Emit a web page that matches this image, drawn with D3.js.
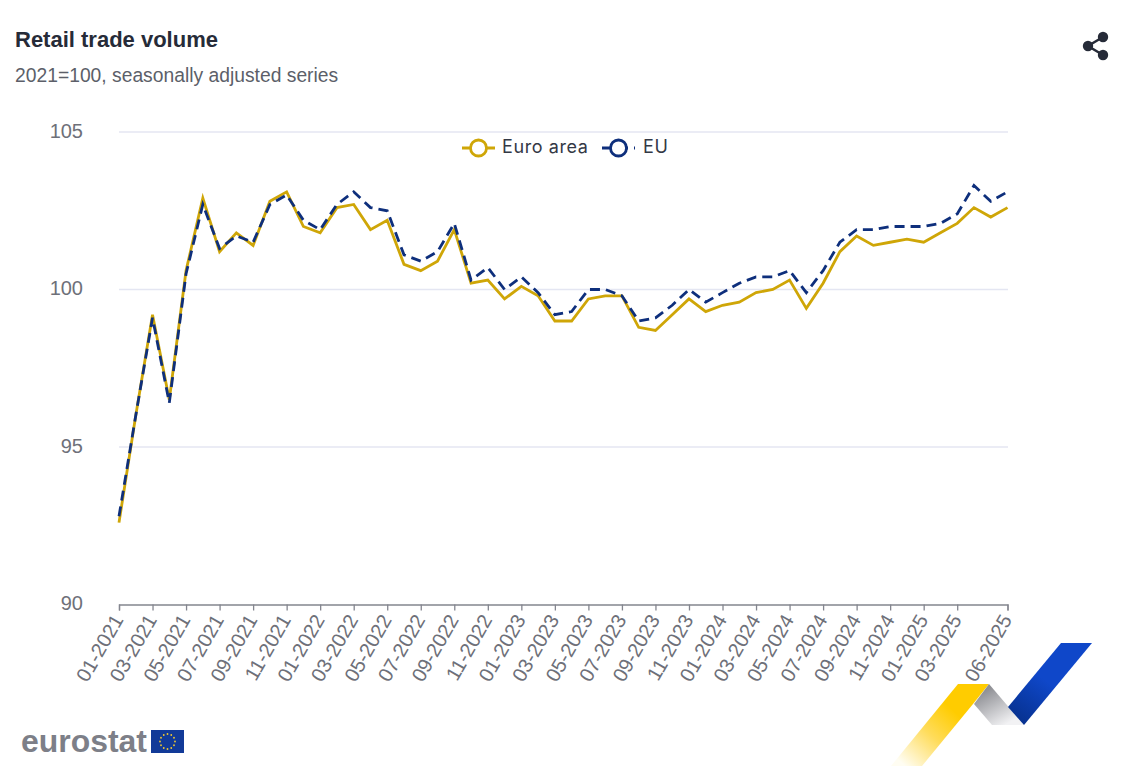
<!DOCTYPE html>
<html>
<head>
<meta charset="utf-8">
<script src="https://cdn.jsdelivr.net/npm/d3@7"></script>
<style>
  html, body { margin: 0; padding: 0; background: #fff; }
  svg { display: block; }
  text { font-family: "Liberation Sans", Arial, sans-serif; }
</style>
</head>
<body>
<div id="chart"></div>
<script>
var WIDTH = 1130;
var HEIGHT = 784;

var months = [
  '01-2021','02-2021','03-2021','04-2021','05-2021','06-2021','07-2021','08-2021','09-2021','10-2021','11-2021','12-2021',
  '01-2022','02-2022','03-2022','04-2022','05-2022','06-2022','07-2022','08-2022','09-2022','10-2022','11-2022','12-2022',
  '01-2023','02-2023','03-2023','04-2023','05-2023','06-2023','07-2023','08-2023','09-2023','10-2023','11-2023','12-2023',
  '01-2024','02-2024','03-2024','04-2024','05-2024','06-2024','07-2024','08-2024','09-2024','10-2024','11-2024','12-2024',
  '01-2025','02-2025','03-2025','04-2025','05-2025','06-2025'
];

var euroArea = [
  92.6, 96.0, 99.2, 96.5, 100.6, 102.9, 101.2, 101.8, 101.4, 102.8, 103.1, 102.0,
  101.8, 102.6, 102.7, 101.9, 102.2, 100.8, 100.6, 100.9, 101.9, 100.2, 100.3, 99.7,
  100.1, 99.8, 99.0, 99.0, 99.7, 99.8, 99.8, 98.8, 98.7, 99.2, 99.7, 99.3,
  99.5, 99.6, 99.9, 100.0, 100.3, 99.4, 100.2, 101.2, 101.7, 101.4, 101.5, 101.6,
  101.5, 101.8, 102.1, 102.6, 102.3, 102.6
];

var eu = [
  92.8, 96.0, 99.1, 96.4, 100.5, 102.7, 101.3, 101.7, 101.5, 102.7, 103.0, 102.2,
  101.9, 102.7, 103.1, 102.6, 102.5, 101.1, 100.9, 101.2, 102.1, 100.3, 100.7, 100.0,
  100.4, 99.9, 99.2, 99.3, 100.0, 100.0, 99.8, 99.0, 99.1, 99.5, 100.0, 99.6,
  99.9, 100.2, 100.4, 100.4, 100.6, 99.9, 100.6, 101.5, 101.9, 101.9, 102.0, 102.0,
  102.0, 102.1, 102.4, 103.3, 102.8, 103.1
];

var xTicks = [
  '01-2021','03-2021','05-2021','07-2021','09-2021','11-2021',
  '01-2022','03-2022','05-2022','07-2022','09-2022','11-2022',
  '01-2023','03-2023','05-2023','07-2023','09-2023','11-2023',
  '01-2024','03-2024','05-2024','07-2024','09-2024','11-2024',
  '01-2025','03-2025','06-2025'
];
var yTicks = [90, 95, 100, 105];

var GOLD = '#cfa607';
var NAVY = '#0e2f7c';
var LABEL = '#6e7079';

var svg = d3.select('#chart').append('svg')
  .attr('width', WIDTH)
  .attr('height', HEIGHT);

var defs = svg.append('defs');

var x = d3.scalePoint().domain(months).range([119, 1007.5]);
var y = d3.scaleLinear().domain([90, 105]).range([604.5, 132]);

// Titles
svg.append('text')
  .attr('x', 15).attr('y', 47)
  .attr('font-size', 22).attr('font-weight', 'bold')
  .attr('fill', '#262b38')
  .text('Retail trade volume');

svg.append('text')
  .attr('x', 15).attr('y', 81.5)
  .attr('font-size', 19.3)
  .attr('fill', '#5c5f69')
  .text('2021=100, seasonally adjusted series');

// Y axis, grid lines come from the ticks
var yAxis = d3.axisLeft(y).tickValues(yTicks).tickSize(0).tickPadding(0);
var yGroup = svg.append('g').attr('transform', 'translate(83,-1)').call(yAxis);
yGroup.select('.domain').remove();
yGroup.selectAll('text')
  .attr('font-size', 20)
  .attr('font-family', '"Liberation Sans", Arial, sans-serif')
  .attr('fill', LABEL);

svg.append('g').selectAll('line')
  .data(yTicks.filter(function(d) { return d !== 90; }))
  .enter().append('line')
  .attr('x1', 119).attr('x2', 1008)
  .attr('y1', function(d) { return y(d); })
  .attr('y2', function(d) { return y(d); })
  .attr('stroke', '#e4e6f2')
  .attr('stroke-width', 1.3);

// X axis
var xAxis = d3.axisBottom(x).tickValues(xTicks).tickSize(6).tickPadding(0);
var xGroup = svg.append('g').attr('transform', 'translate(0,604.5)').call(xAxis);
xGroup.select('.domain').attr('stroke', '#84868f').attr('stroke-width', 1.3);
xGroup.selectAll('line').attr('stroke', '#84868f').attr('stroke-width', 1.3);
xGroup.selectAll('text')
  .attr('font-size', 20)
  .attr('font-family', '"Liberation Sans", Arial, sans-serif')
  .attr('fill', LABEL)
  .attr('text-anchor', 'end')
  .attr('transform', 'translate(-1,12) rotate(-60)')
  .attr('dy', '0.32em')
  .attr('y', 0);

// Lines
var line = d3.line()
  .x(function(d, i) { return x(months[i]); })
  .y(function(d) { return y(d); });

svg.append('path')
  .datum(euroArea)
  .attr('fill', 'none')
  .attr('stroke', GOLD)
  .attr('stroke-width', 2.8)
  .attr('d', line);

svg.append('path')
  .datum(eu)
  .attr('fill', 'none')
  .attr('stroke', NAVY)
  .attr('stroke-width', 2.8)
  .attr('stroke-dasharray', '10,6')
  .attr('d', line);

// Legend
function legendItem(x0, color, dash, label, textX) {
  var g = svg.append('g').attr('transform', 'translate(0,148)');
  g.append('line')
    .attr('x1', x0).attr('x2', x0 + 33)
    .attr('stroke', color).attr('stroke-width', 2.8)
    .attr('stroke-dasharray', dash);
  g.append('circle')
    .attr('cx', x0 + 16.5).attr('r', 8)
    .attr('fill', '#fff').attr('stroke', color).attr('stroke-width', 2.8);
  g.append('text')
    .attr('x', textX).attr('y', 4.5)
    .attr('letter-spacing', 0.6)
    .attr('style', 'font-family: Inter, sans-serif; font-size: 18px')
    .attr('fill', '#333845')
    .text(label);
}
legendItem(462, GOLD, null, 'Euro area', 502);
legendItem(602, NAVY, '10,6', 'EU', 643);

// Share icon
var share = svg.append('g').attr('fill', '#262b38').attr('stroke', '#262b38');
share.append('path').attr('fill', 'none').attr('stroke-width', 2.5).attr('d', 'M1103,37L1088,46L1103,55');
[[1103, 37], [1088, 46], [1103, 55]].forEach(function(p) {
  share.append('circle').attr('cx', p[0]).attr('cy', p[1]).attr('r', 5.2).attr('stroke', 'none');
});

// Eurostat logo
svg.append('text')
  .attr('x', 21).attr('y', 752)
  .attr('font-size', 31).attr('font-weight', 'bold')
  .attr('fill', '#7d7f88')
  .attr('textLength', 126)
  .attr('lengthAdjust', 'spacingAndGlyphs')
  .text('eurostat');

svg.append('rect')
  .attr('x', 151).attr('y', 730).attr('width', 33).attr('height', 23)
  .attr('fill', '#123a98');

d3.range(12).forEach(function(i) {
  var a = i / 12 * 2 * Math.PI;
  svg.append('circle')
    .attr('cx', 167.5 + 7.5 * Math.cos(a))
    .attr('cy', 741.5 + 7.5 * Math.sin(a))
    .attr('r', 0.9)
    .attr('fill', '#f2c92f');
});

// Ribbon in the corner
function gradient(id, x1, y1, x2, y2, stops) {
  var g = defs.append('linearGradient')
    .attr('id', id)
    .attr('gradientUnits', 'userSpaceOnUse')
    .attr('x1', x1).attr('y1', y1).attr('x2', x2).attr('y2', y2);
  stops.forEach(function(s) {
    g.append('stop').attr('offset', s[0]).attr('stop-color', s[1]);
  });
}
gradient('ribbonYellow', 905, 766, 955, 712, [[0, '#fffdf2'], [0.55, '#ffdc5a'], [1, '#ffcc00']]);
gradient('ribbonGray', 985, 690, 1005, 725, [[0, '#8e8f94'], [1, '#f2f2f4']]);
gradient('ribbonBlue', 1015, 722, 1045, 680, [[0, '#06308c'], [1, '#0f47c9']]);

svg.append('path').attr('fill', 'url(#ribbonYellow)').attr('d', 'M958,684L989,684L973,704L922,766L891,766Z');
svg.append('path').attr('fill', 'url(#ribbonGray)').attr('d', 'M989,684L1024,725L992,725L974,704Z');
svg.append('path').attr('fill', 'url(#ribbonBlue)').attr('d', 'M1061,643L1092,643L1024,725L1008,707Z');
</script>
</body>
</html>
